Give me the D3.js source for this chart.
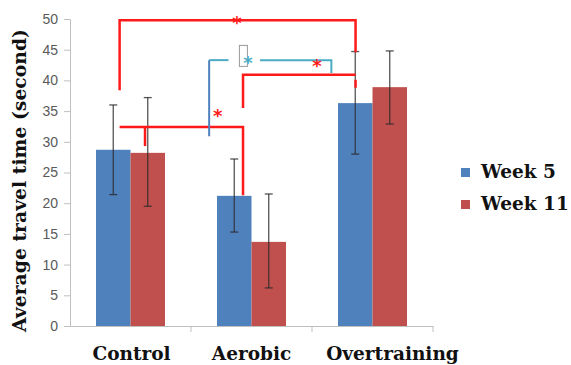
<!DOCTYPE html>
<html>
<head>
<meta charset="utf-8">
<script src="https://cdn.jsdelivr.net/npm/d3@7"></script>
<style>
  body { margin: 0; background: #fff; }
  svg { display: block; }
</style>
</head>
<body>
<svg id="chart"></svg>
<script>
// Bar chart with error bars and significance brackets.

const categories = ["Control", "Aerobic", "Overtraining"];
const seriesNames = ["Week 5", "Week 11"];
const week5 = [28.7, 21.2, 36.3];
const week11 = [28.2, 13.7, 38.9];
const week5Err = [[21.4, 36.0], [15.3, 27.2], [28.0, 44.7]];
const week11Err = [[19.5, 37.2], [6.2, 21.5], [32.9, 44.8]];
const yTicks = [0, 5, 10, 15, 20, 25, 30, 35, 40, 45, 50];

// significance brackets: points as [category, fraction of band, value]
const redBrackets = [
  [[0, 0.41, 38.4], [0, 0.41, 49.8], [2, 0.36, 49.8], [2, 0.36, 44.6]],
  [[0, 0.41, 32.4], [1, 0.43, 32.4], [1, 0.43, 21.3]],
  [[1, 0.43, 35.5], [1, 0.43, 40.9], [2, 0.36, 40.9]],
  [[0, 0.62, 32.4], [0, 0.62, 29.3]],
  [[2, 0.36, 40.1], [2, 0.36, 38.8]]
];
const blueLeft = [[1, 0.15, 30.9], [1, 0.15, 43.3]];
const blueTop = [[[1, 0.15, 43.3], [1, 0.31, 43.3]], [[1, 0.57, 43.3], [2, 0.16, 43.3], [2, 0.16, 41.2]]];
const stars = [[1, 0.38, 48.3, "red"], [1, 0.22, 33.3, "red"], [2, 0.04, 41.3, "red"], [1, 0.47, 41.8, "blue"]];

const W = 571, H = 365;
const M = { top: 19, right: 138, bottom: 39, left: 70 };
const COLORS = ["#4f81bd", "#c0504d"];
const LABEL_SHIFT = [1, 0, 20];

const svg = d3.select("#chart").attr("width", W).attr("height", H);
const g = svg.append("g").attr("transform", `translate(${M.left},${M.top})`);
const iw = W - M.left - M.right, ih = H - M.top - M.bottom;

const x0 = d3.scaleBand().domain(d3.range(categories.length)).range([0, iw]).paddingInner(0).paddingOuter(0);
const x1 = d3.scaleBand().domain([0, 1]).range([26, x0.bandwidth() - 26]);
const y = d3.scaleLinear().domain([0, 50]).range([ih, 0]);

const px = (c, f) => x0(c) + x0.bandwidth() * f;

// axes
const yAxis = g.append("g")
  .call(d3.axisLeft(y).tickValues(yTicks).tickSize(6).tickPadding(6));
yAxis.select(".domain").attr("stroke", "#bfbfbf");
yAxis.selectAll(".tick line").attr("stroke", "#bfbfbf");
yAxis.selectAll(".tick text")
  .attr("fill", "#5a5a5a")
  .style("font-family", "'Liberation Sans Narrow', 'Liberation Sans', sans-serif")
  .style("font-size", "14px");

const xAxis = g.append("g").attr("transform", `translate(0,${ih})`)
  .call(d3.axisBottom(x0).tickSize(0).tickFormat(i => categories[i]));
xAxis.select(".domain").attr("stroke", "#bfbfbf");
xAxis.selectAll(".tick text")
  .attr("fill", "#111")
  .attr("y", 34)
  .attr("dy", null)
  .attr("dx", i => LABEL_SHIFT[i])
  .style("font-family", "'DejaVu Serif', serif")
  .style("font-weight", "bold")
  .style("font-size", "18.5px");
// category separators
g.append("g").selectAll("line").data(d3.range(categories.length))
  .join("line")
  .attr("x1", i => x0(i) + x0.bandwidth()).attr("x2", i => x0(i) + x0.bandwidth())
  .attr("y1", ih).attr("y2", ih + 6)
  .attr("stroke", "#bfbfbf");

// bars
const series = [week5, week11];
const errs = [week5Err, week11Err];
series.forEach((vals, s) => {
  g.append("g").selectAll("rect").data(vals).join("rect")
    .attr("x", (d, i) => x0(i) + x1(s))
    .attr("width", x1.bandwidth())
    .attr("y", d => y(d))
    .attr("height", d => ih - y(d))
    .attr("fill", COLORS[s]);
});

// error bars
series.forEach((vals, s) => {
  const eg = g.append("g").attr("stroke", "#2b2b2b").attr("stroke-opacity", 0.8).attr("stroke-width", 1.3);
  errs[s].forEach((e, i) => {
    const cx = x0(i) + x1(s) + x1.bandwidth() / 2;
    eg.append("line").attr("x1", cx).attr("x2", cx).attr("y1", y(e[0])).attr("y2", y(e[1]));
    eg.append("line").attr("x1", cx - 4).attr("x2", cx + 4).attr("y1", y(e[0])).attr("y2", y(e[0]));
    eg.append("line").attr("x1", cx - 4).attr("x2", cx + 4).attr("y1", y(e[1])).attr("y2", y(e[1]));
  });
});

// brackets
const line = d3.line().x(p => px(p[0], p[1])).y(p => y(p[2]));
g.append("g").selectAll("path").data(redBrackets).join("path")
  .attr("d", line).attr("fill", "none")
  .attr("stroke", "#ff1a1a").attr("stroke-width", 2.5);
g.append("path").attr("d", line(blueLeft)).attr("fill", "none")
  .attr("stroke", "#4f81bd").attr("stroke-width", 2);
g.append("g").selectAll("path").data(blueTop).join("path")
  .attr("d", line).attr("fill", "none")
  .attr("stroke", "#4bacc6").attr("stroke-width", 2);
// small box near the blue star
g.append("rect")
  .attr("x", px(1, 0.40)).attr("y", y(45.7))
  .attr("width", 8).attr("height", 21)
  .attr("fill", "none").attr("stroke", "#999").attr("stroke-width", 1);

g.append("g").selectAll("text").data(stars).join("text")
  .attr("x", d => px(d[0], d[1])).attr("y", d => y(d[2]))
  .attr("text-anchor", "middle")
  .attr("fill", d => d[3] === "red" ? "#ff1a1a" : "#4bacc6")
  .style("font-family", "'DejaVu Sans', sans-serif")
  .style("font-weight", "bold")
  .style("font-size", d => d[3] === "red" ? "18px" : "18px")
  .text("*");

// y label
svg.append("text")
  .attr("transform", `translate(26,${(M.top + M.top + ih) / 2 + 8}) rotate(-90)`)
  .attr("text-anchor", "middle")
  .attr("fill", "#111")
  .attr("textLength", 303).attr("lengthAdjust", "spacingAndGlyphs")
  .style("font-family", "'DejaVu Serif', serif")
  .style("font-weight", "bold")
  .style("font-size", "18px")
  .text("Average travel time (second)");

// legend
const lg = svg.append("g").attr("transform", "translate(461,172)");
seriesNames.forEach((name, i) => {
  const row = lg.append("g").attr("transform", `translate(0,${i * 32})`);
  row.append("rect").attr("x", 0).attr("y", -4).attr("width", 9).attr("height", 9).attr("fill", COLORS[i]);
  row.append("text").attr("x", 20).attr("y", 0).attr("dy", "0.35em")
    .attr("fill", "#111")
    .style("font-family", "'DejaVu Serif', serif")
    .style("font-weight", "bold")
    .style("font-size", "18.5px")
    .text(name);
});
</script>
</body>
</html>
